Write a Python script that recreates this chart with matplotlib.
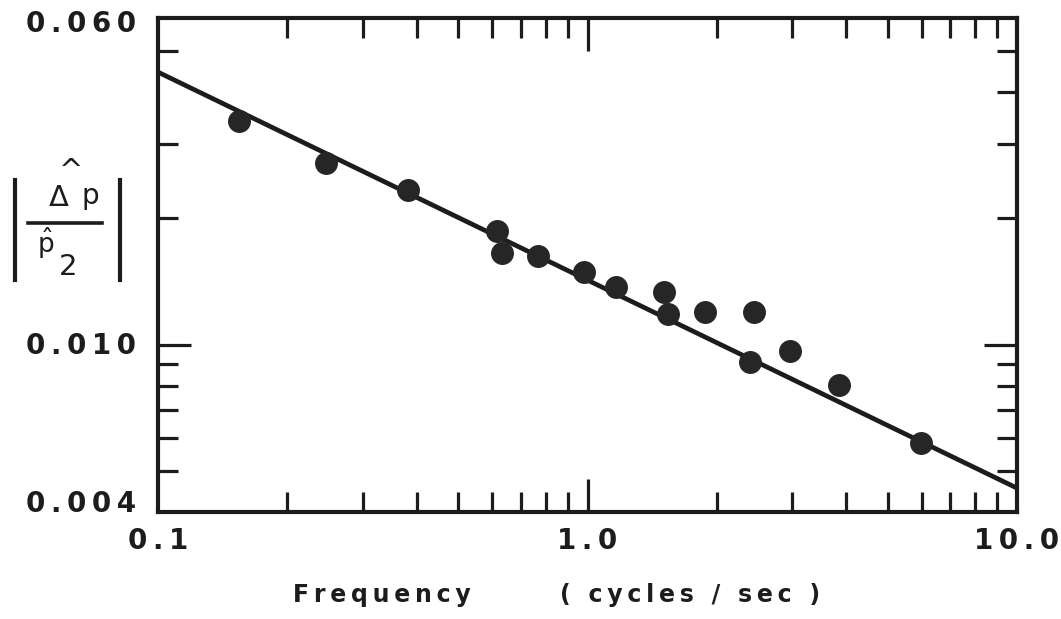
import matplotlib
matplotlib.use("Agg")
import matplotlib.pyplot as plt
from matplotlib.lines import Line2D

# ---- data ----
freq = [0.154, 0.246, 0.381, 0.617, 0.634, 0.765, 0.984, 1.168, 1.504,
        1.537, 1.874, 2.438, 2.386, 2.957, 3.846, 5.975]
ratio = [0.0341, 0.0271, 0.0234, 0.0187, 0.01655, 0.0163, 0.0149, 0.0137,
         0.01336, 0.01184, 0.0120, 0.0120, 0.0091, 0.00967, 0.00802, 0.00584]
fit_x = [0.1, 10.0]
fit_y = [0.0446, 0.00456]

x_major = [0.1, 1.0, 10.0]
x_major_labels = ["0.1", "1.0", "10.0"]
x_minor = [0.2, 0.3, 0.4, 0.5, 0.6, 0.7, 0.8, 0.9, 2, 3, 4, 5, 6, 7, 8, 9]
y_major = [0.004, 0.010, 0.060]
y_major_labels = ["0.004", "0.010", "0.060"]
y_minor_left = [0.005, 0.006, 0.007, 0.008, 0.009, 0.02, 0.03, 0.05]
y_minor_right = [0.005, 0.006, 0.007, 0.008, 0.009, 0.02, 0.03, 0.04, 0.05]

INK = "#1c1c1c"
FONT = "DejaVu Sans"
plt.rcParams["mathtext.fontset"] = "dejavusans"

def spaced(s, sep="\u2009"):
    return sep.join(s)

fig = plt.figure(figsize=(10.61, 6.19), dpi=100)
fig.patch.set_facecolor("white")
ax = fig.add_axes([158 / 1061, 1 - 512 / 619, (1017 - 158) / 1061, (512 - 18) / 619])
ax.set_xscale("log")
ax.set_yscale("log")
ax.set_xlim(0.1, 10.0)
ax.set_ylim(0.004, 0.060)

ax.plot(fit_x, fit_y, color=INK, lw=3.4, solid_capstyle="butt", zorder=2)
ax.plot(freq, ratio, "o", color="#262626", markersize=15.5, zorder=3)

for s in ax.spines.values():
    s.set_linewidth(3.0)
    s.set_color(INK)

ax.set_xticks([1.0])
ax.set_xticks(x_minor, minor=True)
ax.set_xticklabels([])
ax.xaxis.set_minor_formatter(matplotlib.ticker.NullFormatter())
ax.set_yticks([0.010])
ax.set_yticks(y_minor_left, minor=True)
ax.set_yticklabels([])
ax.yaxis.set_minor_formatter(matplotlib.ticker.NullFormatter())
ax.tick_params(which="major", direction="in", length=24, width=2.3, color=INK,
               top=True, bottom=True, left=True, right=False)
ax.tick_params(which="minor", direction="in", length=14.5, width=2.3, color=INK,
               top=True, bottom=True, left=True, right=False)

ax2 = ax.twinx()
ax2.set_yscale("log")
ax2.set_ylim(0.004, 0.060)
ax2.set_yticks([0.010])
ax2.set_yticks(y_minor_right, minor=True)
ax2.set_yticklabels([])
ax2.yaxis.set_minor_formatter(matplotlib.ticker.NullFormatter())
ax2.tick_params(which="major", direction="in", length=24, width=2.3, color=INK)
ax2.tick_params(which="minor", direction="in", length=14.5, width=2.3, color=INK)
for s in ax2.spines.values():
    s.set_visible(False)

lab_kw = dict(fontsize=20, fontweight="bold", color=INK, family=FONT)
trans_y = ax.get_yaxis_transform()
y_off = {0.004: 6, 0.010: -1, 0.060: -4}
for v, t in zip(y_major, y_major_labels):
    ax.annotate(spaced(t), (0, v), xycoords=trans_y, xytext=(-16, y_off[v]),
                textcoords="offset points", ha="right", va="center",
                annotation_clip=False, **lab_kw)
trans_x = ax.get_xaxis_transform()
for v, t in zip(x_major, x_major_labels):
    ax.annotate(spaced(t), (v, 0), xycoords=trans_x, xytext=(0, -21),
                textcoords="offset points", ha="center", va="center",
                annotation_clip=False, **lab_kw)

def fx(px):
    return px / 1061
def fy(py):
    return 1 - py / 619

fig.text(fx(382), fy(595), spaced("Frequency"), ha="center", va="center",
         fontsize=17, fontweight="bold", color=INK, family=FONT)
fig.text(fx(690), fy(595), spaced("( cycles / sec )"), ha="center", va="center",
         fontsize=17, fontweight="bold", color=INK, family=FONT)

# y label: | Δp̂ / p̂2 |
fig.text(fx(59), fy(198), "Δ", ha="center", va="center", fontsize=21, color=INK, family=FONT)
fig.text(fx(90), fy(196), "p", ha="center", va="center", fontsize=20, color=INK, family=FONT)
fig.text(fx(71), fy(171), "^", ha="center", va="center", fontsize=21, color=INK, family=FONT)
fig.text(fx(46), fy(243), r"$\hat{\mathrm{p}}$", ha="center", va="center",
         fontsize=19, color=INK)
fig.text(fx(68), fy(267), "2", ha="center", va="center", fontsize=21, color=INK, family=FONT)
fig.add_artist(Line2D([fx(28), fx(102)], [fy(223), fy(223)], lw=2.6, color=INK))
fig.add_artist(Line2D([fx(15), fx(15)], [fy(180), fy(280)], lw=3.0, color=INK))
fig.add_artist(Line2D([fx(120), fx(120)], [fy(180), fy(280)], lw=3.0, color=INK))

fig.savefig("out.png", dpi=100, facecolor="white")
